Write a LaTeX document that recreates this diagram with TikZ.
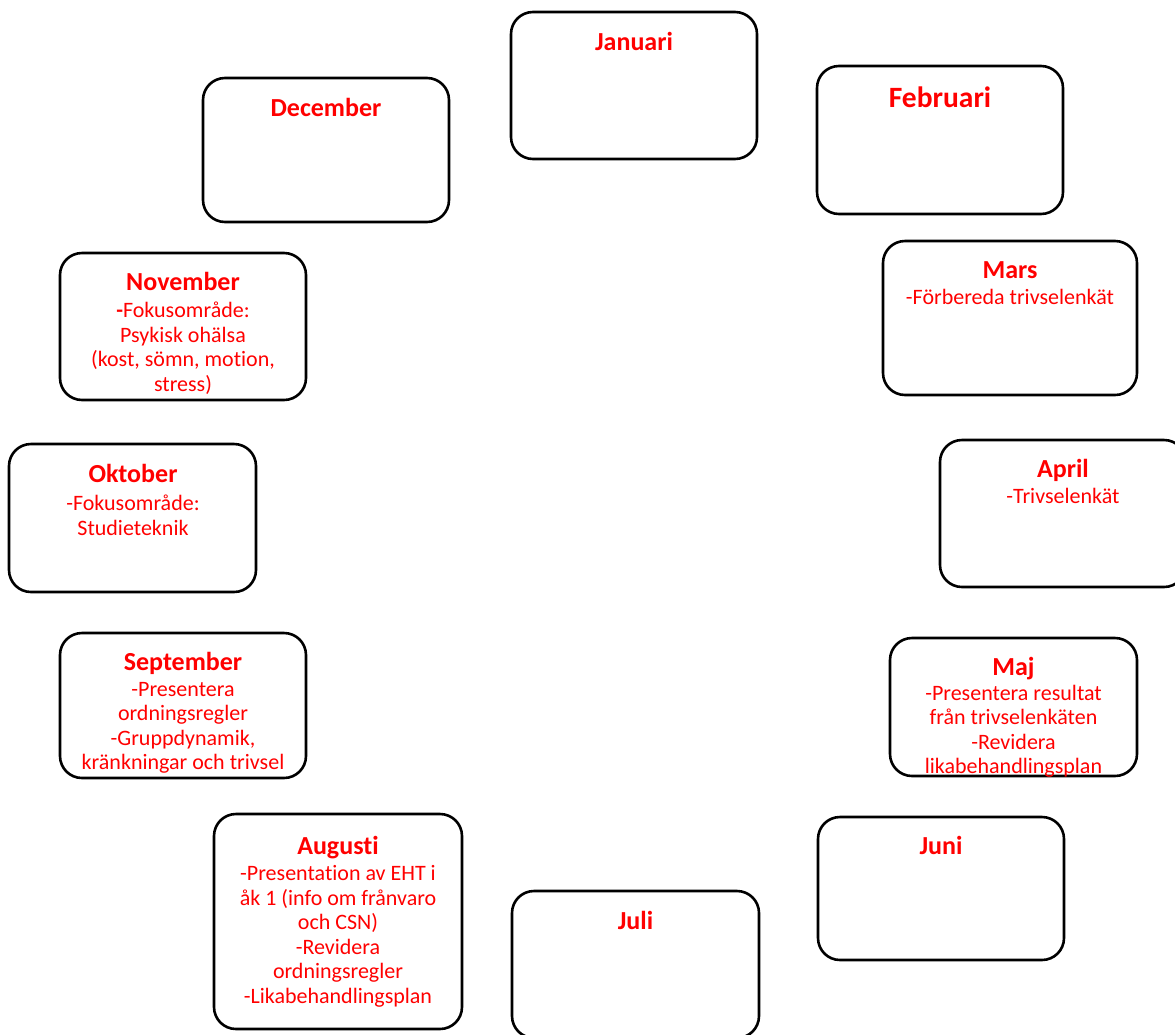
\documentclass[tikz,border=0pt]{standalone}
\usepackage{fontspec}
\setmainfont{Carlito}[Ligatures={NoCommon}]
\definecolor{txtred}{RGB}{255,0,0}
\tikzset{
  monthbox/.style={draw=black, line width=2.6pt, rounded corners=22pt, fill=white, inner sep=0pt},
  lbl/.style={text=txtred, align=center, inner sep=0pt, anchor=north, font=\fontsize{22}{24.5}\selectfont},
}
\newcommand{\ttl}[1]{{\fontsize{26}{28}\selectfont\bfseries\rule{0pt}{20pt}#1}}
\begin{document}
\begin{tikzpicture}[x=1pt,y=-1pt]
\useasboundingbox (0,0) rectangle (1175,1034);
\clip (0,0) rectangle (1175,1034);
% boxes
\node[monthbox, minimum width=246pt, minimum height=147pt] (jan) at (634,85.5) {};
\node[monthbox, minimum width=246pt, minimum height=148pt] (feb) at (940,140) {};
\node[monthbox, minimum width=246pt, minimum height=144pt] (dec) at (326,150) {};
\node[monthbox, minimum width=246pt, minimum height=147pt] (nov) at (183,326.5) {};
\node[monthbox, minimum width=254pt, minimum height=154pt] (mar) at (1010,318) {};
\node[monthbox, minimum width=246pt, minimum height=147pt] (apr) at (1063,513.5) {};
\node[monthbox, minimum width=247pt, minimum height=148pt] (okt) at (132.5,518) {};
\node[monthbox, minimum width=246pt, minimum height=145pt] (sep) at (183,705.5) {};
\node[monthbox, minimum width=247pt, minimum height=138pt] (maj) at (1013.5,707) {};
\node[monthbox, minimum width=248pt, minimum height=215pt] (aug) at (338,921.5) {};
\node[monthbox, minimum width=246pt, minimum height=143pt] (jun) at (941,888.5) {};
\node[monthbox, minimum width=247pt, minimum height=147pt] (jul) at (635.5,964.5) {};
% texts (north = title baseline - 20)
\node[lbl] (jan-t) at (634,30) {\ttl{Januari}};
\node[lbl] (feb-t) at (940,86) {{\fontsize{29.5}{31}\selectfont\bfseries\rule{0pt}{21pt}Februari}};
\node[lbl] (dec-t) at (326,96) {\ttl{December}};
\node[lbl] (nov-t) at (183,270) {\ttl{November}\\[3pt]{\bfseries -}Fokusområde:\\Psykisk ohälsa\\(kost, sömn, motion,\\stress)};
\node[lbl] (mar-t) at (1010,258) {\ttl{Mars}\\[1.5pt]-Förbereda trivselenkät};
\node[lbl] (apr-t) at (1063,457) {\ttl{April}\\[1.5pt]-Trivselenkät};
\node[lbl] (okt-t) at (133,462) {\ttl{Oktober}\\[4pt]-Fokusområde:\\Studieteknik};
\node[lbl] (sep-t) at (183,650) {\ttl{September}\\[1.5pt]-Presentera\\ordningsregler\\-Gruppdynamik,\\kränkningar och trivsel};
\node[lbl] (maj-t) at (1013.5,655) {\ttl{Maj}\\[0.5pt]-Presentera resultat\\från trivselenkäten\\-Revidera\\likabehandlingsplan};
\node[lbl] (aug-t) at (338,834) {\ttl{Augusti}\\[2pt]-Presentation av EHT i\\åk 1 (info om frånvaro\\och CSN)\\-Revidera\\ordningsregler\\-Likabehandlingsplan};
\node[lbl] (jun-t) at (941,834) {\ttl{Juni}};
\node[lbl] (jul-t) at (635.5,909) {\ttl{Juli}};
\end{tikzpicture}
\end{document}
